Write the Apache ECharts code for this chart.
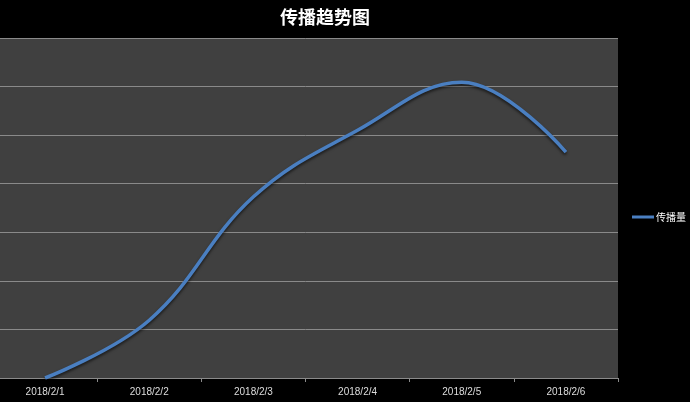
<!DOCTYPE html>
<html><head><meta charset="utf-8">
<script src="https://cdn.jsdelivr.net/npm/echarts@6/dist/echarts.min.js"></script>
<style>html,body{margin:0;padding:0;background:#000;overflow:hidden;}#c{position:absolute;left:-7px;top:0;width:697px;height:402px;}</style>
</head><body><div id="c"></div>
<script>
const categories = ['2018/2/1','2018/2/2','2018/2/3','2018/2/4','2018/2/5','2018/2/6'];
const seriesName = '传播量';
const values = [0, 1190, 3730, 5100, 6090, 4650];
const titleText = '传播趋势图';

const chart = echarts.init(document.getElementById('c'));
chart.setOption({
  backgroundColor: '#000',
  animation: false,
  title: {
    text: titleText, left: 327, top: 3, textAlign: 'center',
    textStyle: { color: '#fff', fontSize: 18, fontWeight: 'bold', fontFamily: 'Noto Sans CJK SC' }
  },
  legend: {
    left: 634, top: 207, orient: 'vertical',
    itemWidth: 22, itemHeight: 3, itemGap: 4,
    icon: 'rect',
    textStyle: { color: '#fff', fontSize: 10, fontFamily: 'Noto Sans CJK SC', padding: [0,0,0,-3] },
    data: [seriesName]
  },
  grid: {
    left: 0, right: 72, top: 38, bottom: 24,
    show: true, backgroundColor: '#404040', borderWidth: 0
  },
  xAxis: {
    type: 'category', data: categories, boundaryGap: true,
    axisLine: { lineStyle: { color: '#8a8a8a', width: 1 } },
    axisTick: { show: true, length: 4, lineStyle: { color: '#8a8a8a' } },
    axisLabel: { color: '#ddd', fontSize: 10, margin: 9, fontFamily: 'Liberation Sans' }
  },
  yAxis: {
    type: 'value', min: 0, max: 7000, interval: 1000,
    axisLabel: { show: false }, axisLine: { show: false }, axisTick: { show: false },
    splitLine: { lineStyle: { color: '#8a8a8a', width: 1 } }
  },
  series: [{
    name: seriesName, type: 'line', data: values, smooth: 0.4,
    symbol: 'none',
    lineStyle: { color: '#4a7fc1', width: 3.5, shadowColor: 'rgba(0,0,0,0.6)', shadowBlur: 3, shadowOffsetY: 2 },
    itemStyle: { color: '#4a7fc1' }
  }]
});
</script></body></html>
